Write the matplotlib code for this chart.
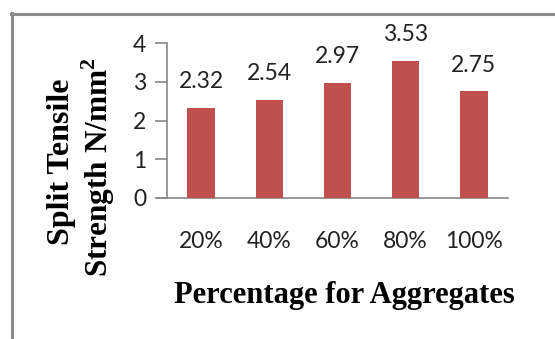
import matplotlib
matplotlib.use("Agg")
import matplotlib.pyplot as plt
from matplotlib.lines import Line2D

categories = ["20%", "40%", "60%", "80%", "100%"]
values = [2.32, 2.54, 2.97, 3.53, 2.75]
value_labels = ["2.32", "2.54", "2.97", "3.53", "2.75"]
y_ticks = [0, 1, 2, 3, 4]

plt.rcParams["mathtext.fontset"] = "custom"
plt.rcParams["mathtext.rm"] = "Liberation Serif:bold"
plt.rcParams["mathtext.bf"] = "Liberation Serif:bold"

W, H = 555, 339
fig = plt.figure(figsize=(W / 100, H / 100), dpi=100)
fig.patch.set_facecolor("white")

# border (left and top visible)
fig.add_artist(Line2D([11.5 / W, 11.5 / W], [0, 1 - 13 / H], color="#8c8c8c", lw=2.2, transform=fig.transFigure))
fig.add_artist(Line2D([10.5 / W, 1], [1 - 14 / H, 1 - 14 / H], color="#8c8c8c", lw=2.2, transform=fig.transFigure))

x0, x1 = 167, 508
y0, y1 = 198, 43
ax = fig.add_axes([x0 / W, 1 - y0 / H, (x1 - x0) / W, (y0 - y1) / H])
ax.set_facecolor("none")

xs = list(range(len(categories)))
bars = ax.bar(xs, values, width=0.4, color="#C0504D", zorder=3)
ax.set_xlim(-0.5, 4.5)
ax.set_ylim(0, 4)
ax.set_yticks(y_ticks)
ax.set_xticks(xs)
ax.set_xticklabels(categories)

tick_font = "Lato"
fs = 16.5
for lbl in ax.get_yticklabels() + ax.get_xticklabels():
    lbl.set_fontfamily(tick_font)
    lbl.set_fontsize(fs)
    lbl.set_color("#222222")

for sp in ["top", "right"]:
    ax.spines[sp].set_visible(False)
ax.spines["left"].set_color("#888888")
ax.spines["bottom"].set_color("#888888")
ax.spines["left"].set_linewidth(1.2)
ax.spines["bottom"].set_linewidth(1.2)
ax.spines["bottom"].set_bounds(-0.63, 4.5)
ax.tick_params(axis="y", direction="out", length=9, width=1.2, color="#888888", pad=6)
ax.tick_params(axis="x", length=0, pad=23.5)

for x, v, t in zip(xs, values, value_labels):
    ax.annotate(t, (x, v), xytext=(0, 19), textcoords="offset points",
                ha="center", va="center", fontfamily=tick_font, fontsize=fs, color="#222222")

fig.text(344 / W, 1 - 295 / H, "Percentage for Aggregates", ha="center", va="center",
         fontfamily="Liberation Serif", fontweight="bold", fontsize=22)
fig.text(61 / W, 1 - 162 / H, "Split Tensile", ha="center", va="center", rotation=90,
         fontfamily="Liberation Serif", fontweight="bold", fontsize=23)
fig.text(98 / W, 1 - 167 / H, "Strength N/mm$^{2}$", ha="center", va="center", rotation=90,
         fontfamily="Liberation Serif", fontweight="bold", fontsize=22.5)

fig.savefig("out.png", dpi=100)
